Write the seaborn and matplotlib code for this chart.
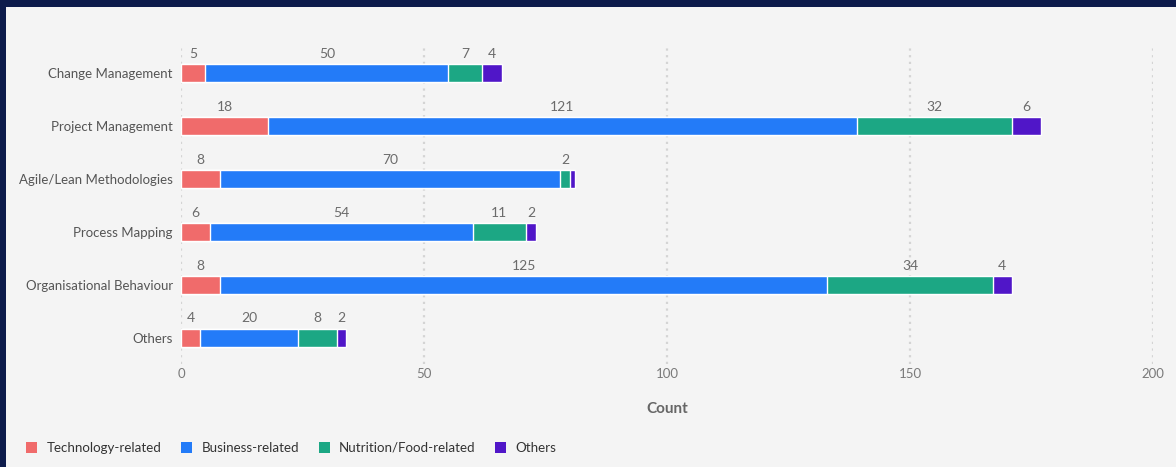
import numpy as np
import pandas as pd
import matplotlib
matplotlib.use('Agg')
import matplotlib.pyplot as plt
import seaborn as sns
from matplotlib.patches import Patch, Rectangle

# dados do gráfico
cursos = ['Change Management', 'Project Management', 'Agile/Lean Methodologies',
          'Process Mapping', 'Organisational Behaviour', 'Others']
tecnologia = [5, 18, 8, 6, 8, 4]
negocios = [50, 121, 70, 54, 125, 20]
nutricao = [7, 32, 2, 11, 34, 8]
outros = [4, 6, 1, 2, 4, 2]

series_nomes = ['Technology-related', 'Business-related', 'Nutrition/Food-related', 'Others']
cores = ['#f06b6b', '#237bf8', '#1ca784', '#5016c8']
x_ticks = [0, 50, 100, 150, 200]

sns.set_style('white')
plt.rcParams['font.family'] = ['Lato', 'DejaVu Sans']

dados = pd.DataFrame({'Curso': cursos, 'Tech': tecnologia, 'Bus': negocios,
                      'Nut': nutricao, 'Out': outros})
valores = dados[['Tech', 'Bus', 'Nut', 'Out']].to_numpy()
acumulado = valores.cumsum(axis=1)

fig = plt.figure(figsize=(11.76, 4.67), dpi=100)
fig.patch.set_facecolor('#0d1b4b')
fig.patches.append(Rectangle((6 / 1176, 0), 1, 1 - 7 / 467, transform=fig.transFigure,
                             facecolor='#f4f4f4', edgecolor='none', zorder=-10))

ax = fig.add_axes([181 / 1176, 1 - 364 / 467, (1153 - 181) / 1176, (364 - 47) / 467])
ax.set_facecolor('none')
ax.set_zorder(1)

altura = 0.34
# barras empilhadas: desenhar do total para o primeiro segmento
for k in range(3, -1, -1):
    sns.barplot(x=acumulado[:, k], y=cursos, color=cores[k], width=altura,
                orient='h', ax=ax, saturation=1, zorder=3)

# rótulos de valores acima de cada segmento
for i in range(len(cursos)):
    for k in range(4):
        v = valores[i, k]
        if v < 2:
            continue
        centro = acumulado[i, k] - v / 2
        ax.text(centro, i - altura / 2 - 0.08, str(v), ha='center', va='bottom',
                fontsize=10, color='#6b6b6b')

ax.set_xlim(0, 200)
ax.set_ylim(5.5, -0.5)
ax.set_xticks(x_ticks)
ax.grid(axis='x', color='#d4d4d4', linestyle=(0, (1, 2)), linewidth=1.6)
ax.set_axisbelow(True)
for s in ax.spines.values():
    s.set_visible(False)
ax.tick_params(axis='both', length=0)
ax.tick_params(axis='x', pad=3, labelsize=9.5, labelcolor='#7a7a7a')
ax.tick_params(axis='y', pad=6, labelsize=9.5, labelcolor='#555555')
ax.set_ylabel('')
ax.set_xlabel('Count', fontsize=11, fontweight='bold', color='#666666', labelpad=16)

handles = [Patch(facecolor=c, edgecolor='none') for c in cores]
fig.legend(handles, series_nomes, loc='center left', bbox_to_anchor=(14 / 1176, 1 - 448 / 467),
           ncol=4, frameon=False, fontsize=9.6, handlelength=0.85, handleheight=0.85,
           handletextpad=0.7, columnspacing=1.45, labelcolor='#333333')

fig.savefig('out.png', dpi=100, facecolor=fig.get_facecolor())
